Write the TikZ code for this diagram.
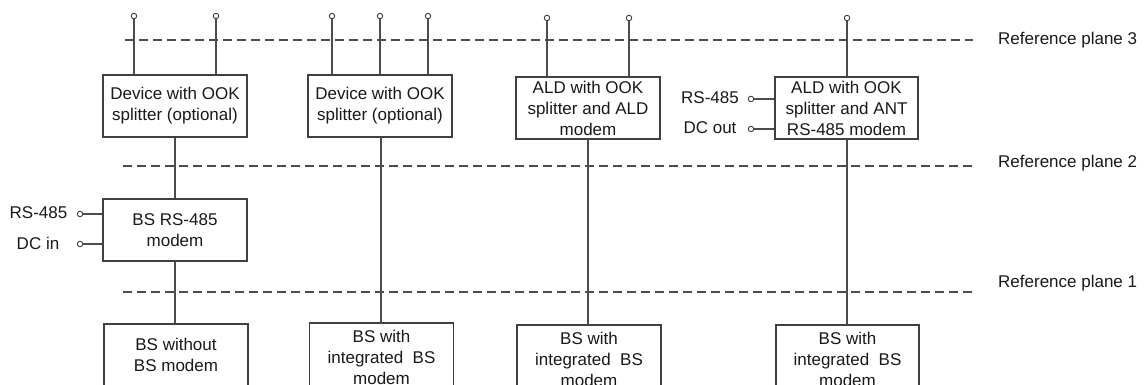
\documentclass[tikz,border=0pt]{standalone}
\usepackage{fontspec}
\setmainfont{Liberation Sans}
\begin{document}
\begin{tikzpicture}[x=1pt,y=-1pt,
  box/.style={draw=black!75,line width=1.1pt,fill=white,minimum width=144pt,minimum height=62pt,
    align=center,inner sep=0pt,font=\fontsize{17}{21}\selectfont,text=black!90},
  lowbox/.style={box,minimum height=68pt},
  pin/.style={circle,draw=black!75,line width=0.9pt,fill=white,inner sep=0pt,minimum size=5.5pt},
  wire/.style={draw=black!70,line width=1.2pt},
  plane/.style={draw=black!70,line width=1.2pt,dash pattern=on 9pt off 5pt},
  lbl/.style={font=\fontsize{17}{21}\selectfont,text=black!90,inner sep=0pt}]
\clip (0,0) rectangle (1144,385);
\useasboundingbox (0,0) rectangle (1144,385);
% reference planes
\coordinate (r3a) at (125,40); \coordinate (r3b) at (973,40);
\coordinate (r2a) at (123,166); \coordinate (r2b) at (972,166);
\coordinate (r1a) at (123,292); \coordinate (r1b) at (972,292);
\draw[plane] (r3a) -- (r3b);
\draw[plane] (r2a) -- (r2b);
\draw[plane] (r1a) -- (r1b);
\node[lbl,anchor=west] (l3) at (998,40) {Reference plane 3};
\node[lbl,anchor=west] (l2) at (998,163) {Reference plane 2};
\node[lbl,anchor=west] (l1) at (998,283) {Reference plane 1};
% boxes
\node[box] (b1) at (175,106) {Device with OOK\\splitter (optional)};
\node[box] (m1) at (175,230) {BS RS-485\\modem};
\node[box] (s1) at (176,355) {BS without\\BS modem};
\node[box] (b2) at (380,106) {Device with OOK\\splitter (optional)};
\node[lowbox] (s2) at (381.5,357) {BS with\\integrated~~BS\\modem};
\node[box] (b3) at (588,108) {ALD with OOK\\splitter and ALD\\modem};
\node[lowbox] (s3) at (589,359) {BS with\\integrated~~BS\\modem};
\node[box,minimum width=143pt] (b4) at (846.5,108) {ALD with OOK\\splitter and ANT\\RS-485 modem};
\node[lowbox,minimum width=143pt] (s4) at (847.5,359) {BS with\\integrated~~BS\\modem};
% top pins
\node[pin] (p11) at (134,16) {};
\node[pin] (p12) at (216,16) {};
\node[pin] (p21) at (332,16) {};
\node[pin] (p22) at (380,16) {};
\node[pin] (p23) at (428,16) {};
\node[pin] (p31) at (547,18) {};
\node[pin] (p32) at (629,18) {};
\node[pin] (p41) at (847,18) {};
\foreach \p/\b in {p11/b1,p12/b1,p21/b2,p22/b2,p23/b2,p31/b3,p32/b3,p41/b4}
  \draw[wire] (\p) -- (\p |- \b.north);
% vertical trunks
\draw[wire] (b1.south) -- (m1.north);
\draw[wire] (m1.south) -- (m1.south |- s1.north);
\draw[wire] (381,137) -- (381,323);
\draw[wire] (b3.south) -- (b3.south |- s3.north);
\draw[wire] (847,139) -- (847,325);
% side pins
\node[pin] (q1) at (80,214) {};
\node[pin] (q2) at (80,244) {};
\node[pin] (q3) at (751,99) {};
\node[pin] (q4) at (751,129) {};
\draw[wire] (q1) -- (q1 -| m1.west);
\draw[wire] (q2) -- (q2 -| m1.west);
\draw[wire] (q3) -- (q3 -| b4.west);
\draw[wire] (q4) -- (q4 -| b4.west);
\node[lbl] (t1) at (38.5,213) {RS-485};
\node[lbl] (t2) at (38,243) {DC in};
\node[lbl] (t3) at (710,98) {RS-485};
\node[lbl] (t4) at (710,128) {DC out};
\end{tikzpicture}
\end{document}
